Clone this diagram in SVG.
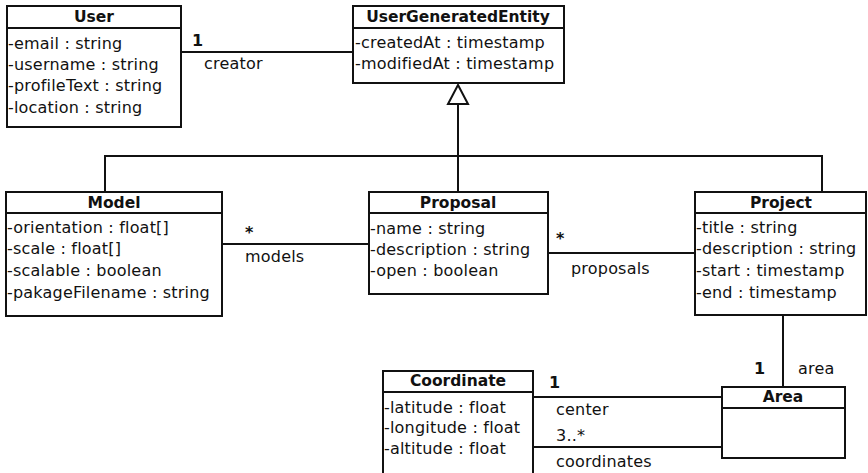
<svg xmlns="http://www.w3.org/2000/svg" width="868" height="473" viewBox="0 0 868 473">
<style>
.box{fill:#fff;stroke:#111;stroke-width:2}
.div{stroke:#111;stroke-width:2}
.t{font-family:"DejaVu Sans",sans-serif;font-size:15.5px;font-weight:bold;fill:#111;text-anchor:middle;dominant-baseline:central}
.a{font-family:"DejaVu Sans",sans-serif;font-size:16px;letter-spacing:0.2px;fill:#111;dominant-baseline:central}
.c{stroke:#111;stroke-width:2;fill:none}
.l{font-family:"DejaVu Sans",sans-serif;font-size:16px;letter-spacing:0.2px;fill:#111;dominant-baseline:central}
</style>
<g id="connectors">
<line class="c" x1="181" y1="52" x2="353" y2="52"/>
<polyline class="c" points="105,192 105,156 822,156 822,192"/>
<line class="c" x1="458" y1="104" x2="458" y2="192"/>
<polygon class="c" points="458,85 448,104 468,104" style="fill:#fff"/>
<line class="c" x1="222" y1="244" x2="369" y2="244"/>
<line class="c" x1="548" y1="253" x2="695" y2="253"/>
<line class="c" x1="783" y1="315" x2="783" y2="387"/>
<line class="c" x1="533" y1="397" x2="722" y2="397"/>
<line class="c" x1="533" y1="447" x2="722" y2="447"/>
<text class="l" x="192" y="40" style="font-weight:bold">1</text>
<text class="l" x="204" y="63">creator</text>
<text class="l" x="245" y="232" style="font-weight:bold">*</text>
<text class="l" x="245" y="256">models</text>
<text class="l" x="556" y="238" style="font-weight:bold">*</text>
<text class="l" x="571" y="268">proposals</text>
<text class="l" x="754" y="368" style="font-weight:bold">1</text>
<text class="l" x="798" y="368">area</text>
<text class="l" x="549" y="382" style="font-weight:bold">1</text>
<text class="l" x="556" y="409">center</text>
<text class="l" x="556" y="435">3..*</text>
<text class="l" x="556" y="461">coordinates</text>
</g>
<g id="User">
<rect class="box" x="7" y="6" width="174" height="121"/>
<line class="div" x1="7" y1="28" x2="181" y2="28"/>
<text class="t" x="94" y="17">User</text>
<text class="a" x="8" y="43">-email : string</text>
<text class="a" x="8" y="64">-username : string</text>
<text class="a" x="8" y="85">-profileText : string</text>
<text class="a" x="8" y="107">-location : string</text>
</g>
<g id="UserGeneratedEntity">
<rect class="box" x="353" y="6" width="211" height="77"/>
<line class="div" x1="353" y1="28" x2="564" y2="28"/>
<text class="t" x="458" y="17">UserGeneratedEntity</text>
<text class="a" x="355" y="42">-createdAt : timestamp</text>
<text class="a" x="355" y="63">-modifiedAt : timestamp</text>
</g>
<g id="Model">
<rect class="box" x="6" y="192" width="216" height="124"/>
<line class="div" x1="6" y1="213" x2="222" y2="213"/>
<text class="t" x="114" y="203">Model</text>
<text class="a" x="7" y="227">-orientation : float[]</text>
<text class="a" x="7" y="248">-scale : float[]</text>
<text class="a" x="7" y="270">-scalable : boolean</text>
<text class="a" x="7" y="292">-pakageFilename : string</text>
</g>
<g id="Proposal">
<rect class="box" x="369" y="192" width="179" height="102"/>
<line class="div" x1="369" y1="213" x2="548" y2="213"/>
<text class="t" x="458" y="203">Proposal</text>
<text class="a" x="370" y="228">-name : string</text>
<text class="a" x="370" y="249">-description : string</text>
<text class="a" x="370" y="270">-open : boolean</text>
</g>
<g id="Project">
<rect class="box" x="695" y="192" width="171" height="123"/>
<line class="div" x1="695" y1="213" x2="866" y2="213"/>
<text class="t" x="781" y="203">Project</text>
<text class="a" x="696" y="227">-title : string</text>
<text class="a" x="696" y="248">-description : string</text>
<text class="a" x="696" y="270">-start : timestamp</text>
<text class="a" x="696" y="292">-end : timestamp</text>
</g>
<g id="Coordinate">
<rect class="box" x="383" y="371" width="150" height="110"/>
<line class="div" x1="383" y1="392" x2="533" y2="392"/>
<text class="t" x="458" y="381">Coordinate</text>
<text class="a" x="384" y="407">-latitude : float</text>
<text class="a" x="384" y="427">-longitude : float</text>
<text class="a" x="384" y="448">-altitude : float</text>
</g>
<g id="Area">
<rect class="box" x="722" y="387" width="123" height="71"/>
<line class="div" x1="722" y1="408" x2="845" y2="408"/>
<text class="t" x="783" y="397">Area</text>
</g>
</svg>
